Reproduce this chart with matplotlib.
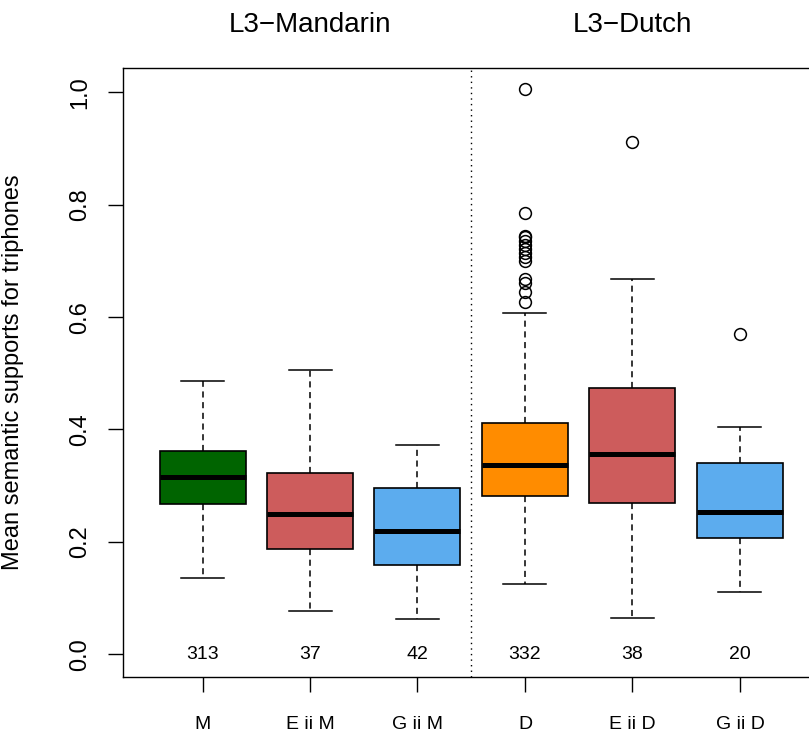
import matplotlib
matplotlib.use("Agg")
import matplotlib.pyplot as plt
import matplotlib.transforms as mtransforms

plt.rcParams["font.family"] = ["Liberation Sans", "DejaVu Sans"]

# group labels and summary stats (whisker low, Q1, median, Q3, whisker high)
labels  = ["M", "E ii M", "G ii M", "D", "E ii D", "G ii D"]
counts  = [313, 37, 42, 332, 38, 20]
whislo  = [0.136, 0.077, 0.062, 0.125, 0.064, 0.111]
q1      = [0.268, 0.187, 0.158, 0.281, 0.269, 0.207]
medians = [0.316, 0.250, 0.220, 0.336, 0.356, 0.254]
q3      = [0.361, 0.322, 0.295, 0.412, 0.473, 0.340]
whishi  = [0.487, 0.505, 0.373, 0.608, 0.668, 0.405]
outliers = [
    [],
    [],
    [],
    [1.005, 0.785, 0.745, 0.742, 0.735, 0.728, 0.721, 0.714, 0.707, 0.699,
     0.668, 0.661, 0.644, 0.626],
    [0.912],
    [0.569],
]
colors = ["#006400", "#CD5C5C", "#5CACEE", "#FF8C00", "#CD5C5C", "#5CACEE"]
groups = ["L3\u2212Mandarin", "L3\u2212Dutch"]
group_centers = [2, 5]

stats = []
for i in range(len(labels)):
    stats.append({
        "label": labels[i],
        "whislo": whislo[i], "q1": q1[i], "med": medians[i],
        "q3": q3[i], "whishi": whishi[i], "fliers": outliers[i],
    })

fig = plt.figure(figsize=(8.09, 7.32), dpi=100)
ax = fig.add_axes([0.152, 0.0755, 0.861, 0.8312])

positions = list(range(1, len(labels) + 1))
bp = ax.bxp(stats, positions=positions, widths=0.8, patch_artist=True,
            capwidths=0.4,
            boxprops=dict(linewidth=1.2, edgecolor="black"),
            medianprops=dict(color="black", linewidth=3.6, solid_capstyle="butt"),
            whiskerprops=dict(color="black", linewidth=1.1, linestyle=(0, (4, 3))),
            capprops=dict(color="black", linewidth=1.1),
            flierprops=dict(marker="o", markersize=8.5, markerfacecolor="none",
                            markeredgecolor="black", markeredgewidth=1.1))
for patch, c in zip(bp["boxes"], colors):
    patch.set_facecolor(c)

# separator between the two L3 groups
ax.axvline(3.5, color="black", linestyle=(0, (1, 3)), linewidth=1.0)

# sample sizes along the bottom
for x, n in zip(positions, counts):
    ax.text(x, 0.0, str(n), ha="center", va="center", fontsize=14)

trans = mtransforms.blended_transform_factory(ax.transData, ax.transAxes)
for x, g in zip(group_centers, groups):
    ax.text(x, 1.071, g, transform=trans, ha="center", va="center", fontsize=20)

ax.set_xlim(0.26, 6.74)
ax.set_ylim(-0.04, 1.0427)
ax.set_xticks(positions)
ax.set_xticklabels(labels, fontsize=14)
ax.set_yticks([0.0, 0.2, 0.4, 0.6, 0.8, 1.0])
ax.set_yticklabels(["0.0", "0.2", "0.4", "0.6", "0.8", "1.0"],
                   fontsize=17, rotation=90, va="center")
ax.tick_params(axis="x", length=10.5, width=1.0, pad=17.5)
ax.tick_params(axis="y", length=10.8, width=1.0, pad=12)
ax.set_ylabel("Mean semantic supports for triphones", fontsize=17)
ax.yaxis.set_label_coords(-0.1415, 0.5)

for side in ["left", "bottom", "top", "right"]:
    ax.spines[side].set_linewidth(1.0)

fig.savefig("out.png", dpi=100, facecolor="white")
